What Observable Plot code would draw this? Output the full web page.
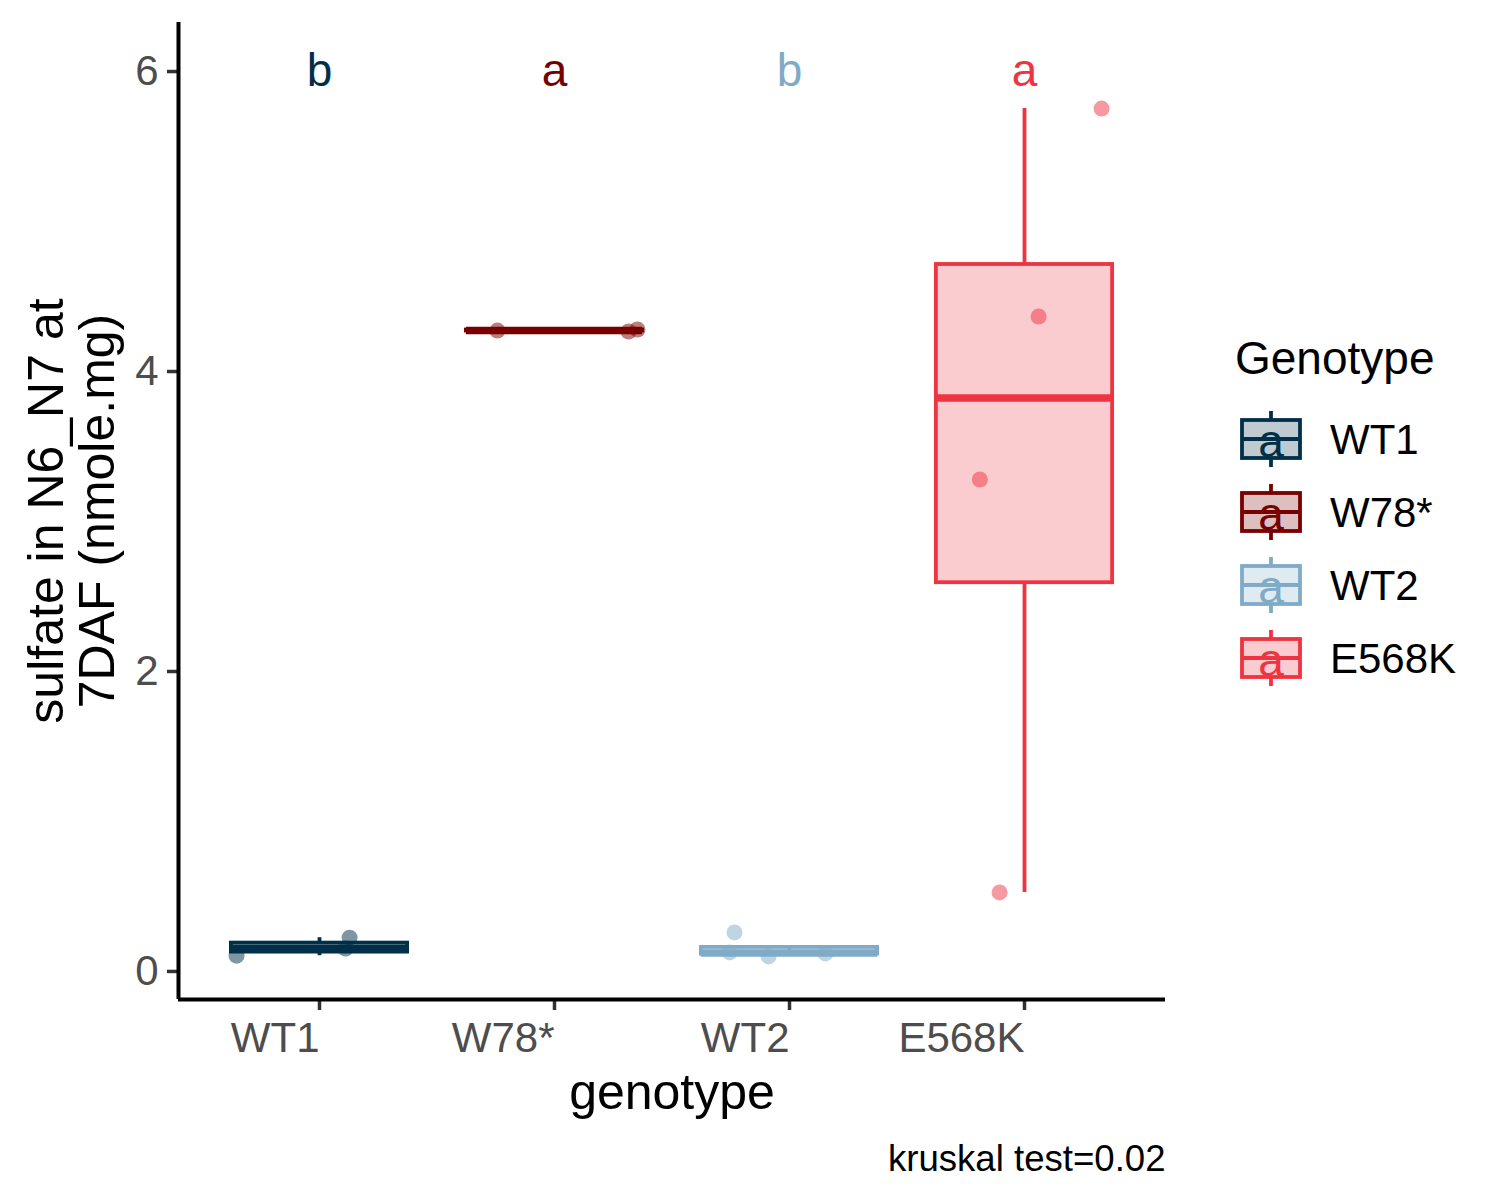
<!DOCTYPE html>
<html>
<head>
<meta charset="utf-8">
<script src="https://cdn.jsdelivr.net/npm/d3@7"></script>
<script src="https://cdn.jsdelivr.net/npm/@observablehq/plot@0.6"></script>
<style>
  body { margin: 0; background: #fff; font-family: "Liberation Sans", Arial, sans-serif; }
</style>
</head>
<body>
<div id="chart"></div>
<script>
// ---- data ----
const genotypes = ["WT1", "W78*", "WT2", "E568K"];
const colors = ["#003049", "#780000", "#7fabc7", "#ee3441"];
const letters = ["b", "a", "b", "a"];
const yTicks = [0, 2, 4, 6];
const yDomain = [-0.187, 6.327];

const wt1Values = [0.105, 0.153, 0.225];
const wt1Jitter = [-0.353, 0.111, 0.128];
const w78Values = [4.273, 4.267, 4.280];
const w78Jitter = [-0.243, 0.315, 0.353];
const wt2Values = [0.26, 0.127, 0.10, 0.12];
const wt2Jitter = [-0.234, -0.255, -0.089, 0.153];
const e568kValues = [5.753, 4.367, 3.28, 0.527];
const e568kJitter = [0.328, 0.06, -0.19, -0.106];

const caption = "kruskal test=0.02";
const xTitle = "genotype";
const yTitle = "sulfate in N6_N7 at\n7DAF (nmole.mg)";
const legendTitle = "Genotype";

// ---- derived tables ----
const groupValues = [wt1Values, w78Values, wt2Values, e568kValues];
const groupJitter = [wt1Jitter, w78Jitter, wt2Jitter, e568kJitter];

const points = [];
groupValues.forEach((vals, gi) => vals.forEach((v, j) =>
  points.push({g: genotypes[gi], x: gi + 1 + groupJitter[gi][j], y: v})));

const stats = genotypes.map((g, gi) => {
  const v = groupValues[gi].slice().sort(d3.ascending);
  const q1 = d3.quantile(v, 0.25), med = d3.quantile(v, 0.5), q3 = d3.quantile(v, 0.75);
  const iqr = q3 - q1;
  const lo = d3.min(v.filter(d => d >= q1 - 1.5 * iqr));
  const hi = d3.max(v.filter(d => d <= q3 + 1.5 * iqr));
  return {g, x: gi + 1, q1, med, q3, lo, hi, letter: letters[gi]};
});

const halfW = 0.375;
const lw = 3.8;
const font = "Liberation Sans, Arial, sans-serif";

const plot = Plot.plot({
  width: 1500,
  height: 1200,
  marginLeft: 178,
  marginRight: 335,
  marginTop: 22,
  marginBottom: 201,
  style: {fontFamily: font, background: "#fff"},
  x: {domain: [0.4, 4.6]},
  y: {domain: yDomain},
  color: {domain: genotypes, range: colors},
  marks: [
    Plot.dot(points, {x: "x", y: "y", r: 8, fill: "g", fillOpacity: 0.5, stroke: null}),
    Plot.ruleX(stats, {x: "x", y1: "q3", y2: "hi", stroke: "g", strokeWidth: lw}),
    Plot.ruleX(stats, {x: "x", y1: "lo", y2: "q1", stroke: "g", strokeWidth: lw}),
    Plot.rect(stats, {x1: d => d.x - halfW, x2: d => d.x + halfW, y1: "q1", y2: "q3",
      fill: "g", fillOpacity: 0.25, stroke: "g", strokeWidth: lw}),
    Plot.ruleY(stats, {y: "med", x1: d => d.x - halfW, x2: d => d.x + halfW, stroke: "g", strokeWidth: 2 * lw}),
    Plot.text(stats, {x: "x", y: 6, text: "letter", fill: "g", fontSize: 46, lineAnchor: "middle"}),
    Plot.axisY({ticks: yTicks, tickFormat: d => String(d), tickSize: 11, tickPadding: 9, fontSize: 42,
      fill: "#4d4d4d", stroke: "#333333", strokeWidth: 3.5, label: null}),
    Plot.axisX({ticks: [1, 2, 3, 4], tickFormat: d => genotypes[d - 1], tickSize: 11, tickPadding: 12,
      fontSize: 42, textAnchor: "end", fill: "#4d4d4d", stroke: "#333333", strokeWidth: 3.5, label: null}),
    Plot.ruleX([0.4], {y1: yDomain[0], y2: yDomain[1], stroke: "#000", strokeWidth: 4}),
    Plot.ruleY([yDomain[0]], {x1: 0.4, x2: 4.6, stroke: "#000", strokeWidth: 4}),
    Plot.text([xTitle], {frameAnchor: "bottom", lineAnchor: "middle", dy: 93, fontSize: 50, fill: "#000"}),
    Plot.text([yTitle], {frameAnchor: "left", lineAnchor: "middle", dx: -106, rotate: -90, fontSize: 50,
      lineHeight: 1.02, fill: "#000", textAnchor: "middle"}),
    Plot.text([caption], {frameAnchor: "bottom-right", lineAnchor: "middle", dy: 160, fontSize: 36.6,
      textAnchor: "end", fill: "#000"})
  ]
});

// ---- legend drawn into the same SVG ----
const svg = d3.select(plot);
const lg = svg.append("g").attr("font-family", font).attr("text-anchor", "start");
lg.append("text").attr("x", 1235).attr("y", 374).attr("font-size", 46).attr("fill", "#000")
  .attr("text-anchor", "start").text(legendTitle);
genotypes.forEach((g, i) => {
  const cy = 439 + 73 * i, cx = 1271, c = colors[i];
  const k = lg.append("g");
  k.append("line").attr("x1", cx).attr("x2", cx).attr("y1", cy - 28).attr("y2", cy + 28)
    .attr("stroke", c).attr("stroke-width", lw);
  k.append("rect").attr("x", 1242).attr("y", cy - 19).attr("width", 58).attr("height", 38)
    .attr("fill", "#fff").attr("stroke", "none");
  k.append("rect").attr("x", 1242).attr("y", cy - 19).attr("width", 58).attr("height", 38)
    .attr("fill", c).attr("fill-opacity", 0.25).attr("stroke", c).attr("stroke-width", lw);
  k.append("line").attr("x1", 1242).attr("x2", 1300).attr("y1", cy).attr("y2", cy)
    .attr("stroke", c).attr("stroke-width", lw);
  k.append("text").attr("x", cx).attr("y", cy + 18).attr("text-anchor", "middle")
    .attr("font-size", 46).attr("fill", c).text("a");
  k.append("text").attr("x", 1330).attr("y", cy + 15).attr("text-anchor", "start")
    .attr("font-size", 42).attr("fill", "#000").text(g);
});

document.getElementById("chart").appendChild(plot);
</script>
</body>
</html>
